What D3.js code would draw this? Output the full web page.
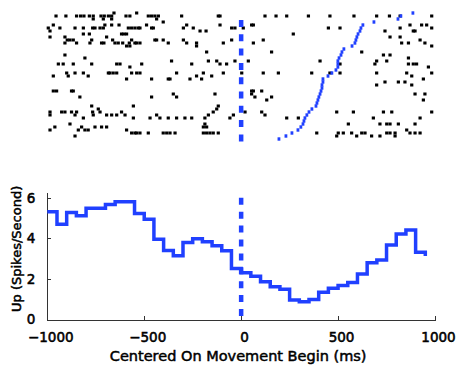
<!DOCTYPE html>
<html>
<head>
<meta charset="utf-8">
<script src="https://cdn.jsdelivr.net/npm/d3@7"></script>
<style>
  html, body { margin: 0; padding: 0; background: #fff; }
  svg { display: block; }
  .axis path, .axis line { stroke: #333; stroke-width: 1; shape-rendering: crispEdges; }
  .axis text { font-family: "DejaVu Sans", sans-serif; font-size: 13.5px; fill: #000; stroke: #000; stroke-width: 0.55; }
  .label { font-family: "DejaVu Sans", sans-serif; fill: #000; stroke: #000; stroke-width: 0.5; }
</style>
</head>
<body>
<svg id="chart" width="462" height="366"></svg>
<script>
// PSTH: firing rate (spikes/s) in 50 ms bins, bin starts from -1000 ms
const binStarts = d3.range(-1000, 1000, 50);
const rates = [
  5.31, 4.69, 5.28, 5.11, 5.48, 5.48, 5.67, 5.80, 5.80, 5.23,
  4.94, 3.95, 3.40, 3.14, 3.80, 3.98, 3.83, 3.64, 3.39, 2.52,
  2.30, 2.13, 1.86, 1.62, 1.49, 0.96, 0.88, 0.99, 1.34, 1.54,
  1.67, 1.83, 2.24, 2.80, 2.93, 3.67, 4.21, 4.41, 3.31, 3.13
];

// movement end time (ms) per trial, top trial first
const moveEnd = [
  886, 824, 809, 685, 628, 618, 613, 603, 597, 592,
  587, 572, 530, 520, 515, 505, 499, 499, 499, 489,
  468, 448, 422, 422, 417, 417, 412, 407, 401, 396,
  391, 386, 365, 350, 339, 329, 324, 319, 308, 293,
  262, 231, 195
];

// spike times (ms) per trial
const spikes = [
  [-656, -539],
  [-955, -904, -849, -828, -811, -783, -763, -723, -706, -685, -668, -594, -574, -479, -462, -445, -427, -307, -118, -109, 123, 180, 235, 347, 458, 582, 699, 765, 820, 983],
  [-763, -711, -668, -436],
  [-402],
  [-969, -703, -668, -630, -488, -281, -109, 54, 63, 871, 931, 957],
  [-995, -935, -857, -814, -766, -754, -728, -711, -582, -565, -548, -531, -522, -462, -453, -298, -247, -49, -32, 11, 450, 510, 820, 983],
  [-986, -212, -181, 742, 888, 897],
  [-814, -783, -617, -605, -591, 269],
  [-986, -909, -694, 768, 820],
  [-897, -883, -866, -771, -663, -565, -445, -436, -402, -298, -49, 114, 923],
  [-909, -849, -780, -720, -708, -651, -634, -611, -577, -548, -539, -522, -376, -281, -230, -92, 63, 828, 863, 948],
  [-591, -574, -230, 983],
  [],
  [-178, 157, 622],
  [-909, 734, 768],
  [-806, 863],
  [-359, -169, -126, -32, 37, 407, 699, 751],
  [-943, -918, -866, -771, -642, -625, -513, -255, -109, -75, 510, 690, 863, 888, 905],
  [-574, 966],
  [],
  [-900, -857, -814, -685, -677, -660, -642, -565, -539, -522, -333, -195, -92, 3, 114, 192, 364, 458, 510, 699, 854, 983],
  [-969, -892, -789, -230, -152, 880],
  [-591, -462, -376, -367, -264, -204, 940],
  [742, 811, 845],
  [699, 880],
  [],
  [-969, -952, -875, -866, 54, 63, 106],
  [-350, -135, 54, 897, 948],
  [-832, -462, -333, 71, 157],
  [132, 940],
  [],
  [-771, -556, -118],
  [-737, -126],
  [-986, -926, -909, -875, -849, -766, -728, -617, -144, 20, 106, 493, 579, 734, 777, 983],
  [-986, -857, -763, -694, -668, -642, -599, -436, -169, -40, 123],
  [-814, -556, -470, -419, -376, -333, -290, -255, -187, -58, 235, 295, 682, 923],
  [],
  [-883, -187, 553, 716, 751, 768, 811, 897],
  [-961, -823, -754, -720, -694, -195, -178],
  [-986, -840, -806, -789, -591, 854],
  [-565, -548, -539, -522, -479, -402, -384, -367, -341, -195, -178, -161, -144, -118, 390, 501, 527, 570, 622, 639, 751, 768, 794, 871, 897, 923],
  [-857, 493, 596, 673, 716, 794],
  []
];

const yTicks = [0, 2, 4, 6];
const xTicks = [-1000, -500, 0, 500, 1000];

const BLUE = '#2040ff';
const svg = d3.select('#chart');

const x = d3.scaleLinear().domain([-1000, 1000]).range([47.3, 435]);
const yRate = d3.scaleLinear().domain([0, 6.27]).range([319.5, 192.3]);
const yTrial = d3.scaleLinear().domain([0, spikes.length - 1]).range([13, 139]);

// raster
const raster = svg.append('g').attr('class', 'raster');
const spikePts = [];
spikes.forEach((times, i) => times.forEach((t) => spikePts.push({ trial: i, t })));

raster.selectAll('rect.spike')
  .data(spikePts)
  .enter()
  .append('rect')
  .attr('class', 'spike')
  .attr('x', (d) => x(d.t) - 1.6)
  .attr('y', (d) => yTrial(d.trial) - 1.5)
  .attr('width', 3.2)
  .attr('height', 3)
  .attr('fill', '#000');

raster.selectAll('rect.move')
  .data(moveEnd)
  .enter()
  .append('rect')
  .attr('class', 'move')
  .attr('x', (d) => x(d) - 1.4)
  .attr('y', (d, i) => yTrial(i) - 1.7)
  .attr('width', 2.8)
  .attr('height', 3.4)
  .attr('fill', BLUE);

raster.append('line')
  .attr('x1', x(0)).attr('x2', x(0))
  .attr('y1', yTrial(2.33)).attr('y2', yTrial(43))
  .attr('stroke', BLUE)
  .attr('stroke-width', 4.5)
  .attr('stroke-dasharray', '7,7.3');

// PSTH
const plot = svg.append('g').attr('class', 'psth');

const xAxisG = plot.append('g')
  .attr('class', 'axis')
  .attr('transform', `translate(0,${yRate(0)})`)
  .call(d3.axisBottom(x).tickValues(xTicks).tickFormat(d3.format('d'))
    .tickSizeInner(-3.5).tickSizeOuter(0).tickPadding(13));
xAxisG.selectAll('text').attr('dx', 3);

plot.append('g')
  .attr('class', 'axis')
  .attr('transform', `translate(${x(-1000)},0)`)
  .call(d3.axisLeft(yRate).tickValues(yTicks).tickFormat(d3.format('d'))
    .tickSizeInner(-3.5).tickSizeOuter(0).tickPadding(12));

const stairs = d3.line()
  .x((d) => x(d[0]))
  .y((d) => yRate(d[1]))
  .curve(d3.curveStepAfter);

plot.append('path')
  .datum(binStarts.map((b, i) => [b, rates[i]]))
  .attr('fill', 'none')
  .attr('stroke', BLUE)
  .attr('stroke-width', 3.5)
  .attr('d', stairs);

plot.append('line')
  .attr('x1', x(0)).attr('x2', x(0))
  .attr('y1', yRate(6)).attr('y2', yRate(0))
  .attr('stroke', BLUE)
  .attr('stroke-width', 4.5)
  .attr('stroke-dasharray', '7,6.9');

svg.append('text')
  .attr('class', 'label')
  .attr('x', (x(-1000) + x(1000)) / 2 - 3)
  .attr('y', 361)
  .attr('text-anchor', 'middle')
  .attr('font-size', 14.5)
  .text('Centered On Movement Begin (ms)');

svg.append('text')
  .attr('class', 'label')
  .attr('transform', `translate(21,${(yRate(0) + yRate(6.27)) / 2 - 7}) rotate(-90)`)
  .attr('text-anchor', 'middle')
  .attr('font-size', 13)
  .text('Up (Spikes/Second)');
</script>
</body>
</html>
